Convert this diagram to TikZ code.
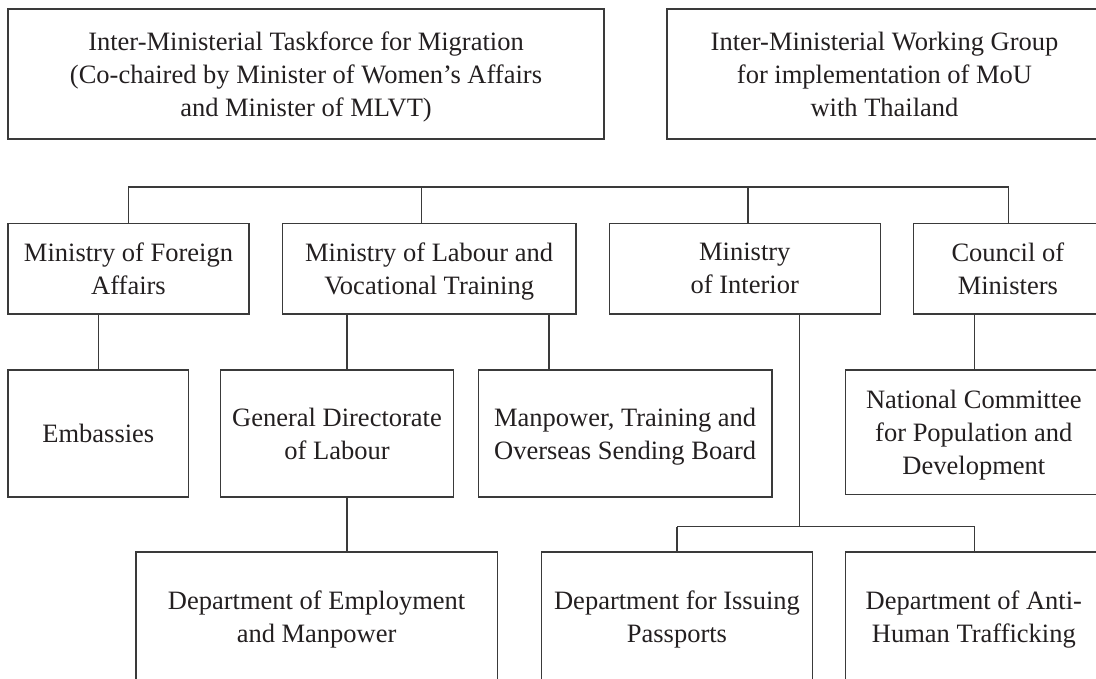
\documentclass[tikz,border=0pt]{standalone}
\usepackage{fontspec}
\setmainfont{Liberation Serif}
\definecolor{ink}{HTML}{231F20}
\definecolor{ln}{HTML}{3A3A3A}
\begin{document}
\begin{tikzpicture}[x=1pt,y=-1pt,
  bx/.style={draw=ln, line width=1.3pt, text=ink, align=center, inner sep=0pt,
    text depth=0pt, font=\fontsize{26.5}{33}\selectfont},
  conn/.style={draw=ln, line width=1.3pt}]
\useasboundingbox (0,0) rectangle (1096,678);
\clip (0,0) rectangle (1096,678);
% top boxes
\node[bx, minimum width=596pt, minimum height=130pt] (t1) at (306,74)
  {Inter-Ministerial Taskforce for Migration\\(Co-chaired by Minister of Women’s Affairs\\and Minister of MLVT)};
\node[bx, minimum width=435pt, minimum height=130pt] (t2) at (884.5,74)
  {Inter-Ministerial Working Group\\for implementation of MoU\\with Thailand};
% ministries
\node[bx, minimum width=241pt, minimum height=90.7pt] (mfa) at (128.5,268.65)
  {Ministry of Foreign\\Affairs};
\node[bx, minimum width=293.7pt, minimum height=90.7pt] (mlvt) at (429.15,268.65)
  {Ministry of Labour and\\Vocational Training};
\node[bx, minimum width=271pt, minimum height=90.7pt] (moi) at (744.8,268.65)
  {Ministry\\of Interior};
\node[bx, minimum width=188.3pt, minimum height=90.7pt] (com) at (1007.85,268.65)
  {Council of\\Ministers};
% third row
\node[bx, minimum width=180.7pt, minimum height=127pt] (emb) at (98.35,433.5)
  {Embassies};
\node[bx, minimum width=232.6pt, minimum height=127pt] (gdl) at (337,433.5)
  {General Directorate\\of Labour};
\node[bx, minimum width=293.7pt, minimum height=127pt] (mtosb) at (625.15,433.5)
  {Manpower, Training and\\Overseas Sending Board};
\node[bx, minimum width=256.3pt, minimum height=124.3pt] (ncpd) at (973.85,432.15)
  {National Committee\\for Population and\\Development};
% fourth row
\node[bx, minimum width=361.3pt, minimum height=129pt] (dem) at (316.65,616.5)
  {Department of Employment\\and Manpower};
\node[bx, minimum width=271.4pt, minimum height=129pt] (dip) at (677,616.5)
  {Department for Issuing\\Passports};
\node[bx, minimum width=256.3pt, minimum height=129pt] (daht) at (973.85,616.5)
  {Department of Anti-\\Human Trafficking};
% connector coordinates
\coordinate (b1) at (128.3,187);
\coordinate (b2) at (421.7,187);
\coordinate (b3) at (748,187);
\coordinate (b4) at (1008.7,187);
\coordinate (xg) at (347,314);
\coordinate (xm) at (549,314);
\coordinate (xi) at (799.7,526.7);
\coordinate (xc) at (974.7,314);
\coordinate (xl) at (677,526.7);
\coordinate (xr) at (974.7,526.7);
% bus from ministries
\draw[conn] (b1) -- (b4);
\draw[conn] (b1) -- (b1 |- mfa.north);
\draw[conn] (b2) -- (b2 |- mlvt.north);
\draw[conn] (b3) -- (b3 |- moi.north);
\draw[conn] (b4) -- (b4 |- com.north);
% children
\draw[conn] (emb.north |- mfa.south) -- (emb.north);
\draw[conn] (xg |- mlvt.south) -- (xg |- gdl.north);
\draw[conn] (xg |- gdl.south) -- (xg |- dem.north);
\draw[conn] (xm |- mlvt.south) -- (xm |- mtosb.north);
\draw[conn] (xc |- com.south) -- (xc |- ncpd.north);
\draw[conn] (xi |- moi.south) -- (xi);
\draw[conn] (xl) -- (xr);
\draw[conn] (xl) -- (xl |- dip.north);
\draw[conn] (xr) -- (xr |- daht.north);
\end{tikzpicture}
\end{document}
